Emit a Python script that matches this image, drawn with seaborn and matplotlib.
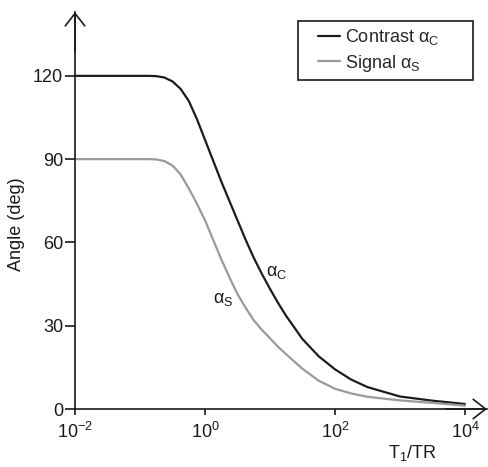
import numpy as np
import pandas as pd
import matplotlib
matplotlib.use("Agg")
import matplotlib.pyplot as plt
from matplotlib.patches import Rectangle
import seaborn as sns

# valores (eje x en decadas de T1/TR)
log_t1_tr = [-2, -1.5, -1, -0.875, -0.75, -0.625, -0.5, -0.375, -0.25, -0.125, 0,
             0.125, 0.25, 0.375, 0.5, 0.625, 0.75, 0.875, 1, 1.125, 1.25, 1.5, 1.75,
             2, 2.25, 2.5, 3, 3.5, 4]
contraste = [120, 120, 120, 120, 119.9, 119.4, 118, 115.3, 111, 104.5, 97,
             89.5, 82, 75, 68, 61, 54.5, 48.7, 43.3, 38.2, 33.5, 25.2, 19.0,
             14.3, 10.6, 7.9, 4.5, 3.0, 1.8]
senal = [90, 90, 90, 90, 89.9, 89.3, 87.7, 84.5, 79.5, 74, 68,
         61, 54, 47.5, 41.4, 36.5, 32, 28.5, 25.5, 22.4, 19.7, 14.5, 10.2,
         7.3, 5.6, 4.4, 3.1, 2.2, 1.2]

y_ticks = [0, 30, 60, 90, 120]
x_ticks = [1e-2, 1e0, 1e2, 1e4]
x_labels = [r"$10^{-2}$", r"$10^{0}$", r"$10^{2}$", r"$10^{4}$"]

lbl_c = r"Contrast α$_\mathrm{C}$"
lbl_s = r"Signal α$_\mathrm{S}$"

t1_tr = 10.0 ** np.array(log_t1_tr)
df = pd.DataFrame({
    "t1_tr": np.concatenate([t1_tr, t1_tr]),
    "angle": contraste + senal,
    "serie": [lbl_c] * len(t1_tr) + [lbl_s] * len(t1_tr),
})

sns.set_theme(style="white")
plt.rcParams["font.family"] = ["Liberation Sans", "DejaVu Sans"]
plt.rcParams["mathtext.fontset"] = "custom"
plt.rcParams["mathtext.rm"] = "Liberation Sans"
plt.rcParams["mathtext.it"] = "Liberation Sans:italic"
plt.rcParams["mathtext.bf"] = "Liberation Sans:bold"

fig = plt.figure(figsize=(4.88, 4.67), dpi=100)
ax = fig.add_axes([75 / 488, 58 / 467, 412 / 488, 397 / 467])

sns.lineplot(data=df, x="t1_tr", y="angle", hue="serie",
             hue_order=[lbl_c, lbl_s],
             palette={lbl_c: "#1c1c1c", lbl_s: "#9a9a9a"},
             linewidth=1.6, ax=ax)

ax.set_xscale("log")
ax.set_xlim(1e-2, 10 ** 4.34)
ax.set_ylim(0, 143)
ax.set_xticks(x_ticks)
ax.set_xticklabels(x_labels)
ax.set_yticks(y_ticks)
ax.xaxis.set_minor_locator(matplotlib.ticker.NullLocator())

for s in ["top", "right"]:
    ax.spines[s].set_visible(False)
for s in ["left", "bottom"]:
    ax.spines[s].set_color("#1a1a1a")
    ax.spines[s].set_linewidth(1.2)

ax.tick_params(axis="y", direction="out", length=7, width=1.2,
               color="#1a1a1a", pad=1.5, labelsize=13, left=True,
               labelcolor="#1a1a1a")
ax.tick_params(axis="x", direction="out", length=4.5, width=1.2,
               color="#1a1a1a", pad=5, labelsize=13, bottom=True,
               labelcolor="#1a1a1a")

# flechas de los ejes
flecha = dict(arrowstyle="->,head_length=0.45,head_width=0.35",
              lw=1.2, color="#1a1a1a", shrinkA=0, shrinkB=0,
              mutation_scale=20)
ax.annotate("", xy=(0, 1), xytext=(0, 0.9), xycoords="axes fraction",
            arrowprops=flecha)
ax.annotate("", xy=(1, 0), xytext=(0.9, 0), xycoords="axes fraction",
            arrowprops=flecha)

ax.set_ylabel("Angle (deg)", fontsize=13, color="#1a1a1a")
ax.yaxis.set_label_coords(-0.121, 0.465)
ax.set_xlabel(r"T$_\mathrm{1}$/TR", fontsize=13, color="#1a1a1a")
ax.xaxis.set_label_coords(0.82, -0.085)

ax.text(12.8, 49.3, r"α$_\mathrm{C}$", fontsize=13, ha="center", va="center",
        color="#1a1a1a")
ax.text(1.89, 39.6, r"α$_\mathrm{S}$", fontsize=13, ha="center", va="center",
        color="#1a1a1a")

# leyenda sin marco, con un recuadro aparte mas ancho como en el original
leg = ax.legend(loc="upper left", bbox_to_anchor=(0.590, 0.962),
                borderaxespad=0, borderpad=0, fontsize=13, frameon=False,
                handlelength=1.2, handletextpad=0.3, labelspacing=0.3,
                title=None)
ax.add_patch(Rectangle((0.541, 0.829), 0.425, 0.149, transform=ax.transAxes,
                       fill=False, edgecolor="#1a1a1a", linewidth=1.2,
                       clip_on=False, zorder=5))

plt.savefig("out.png", dpi=100, facecolor="white")
plt.close()
